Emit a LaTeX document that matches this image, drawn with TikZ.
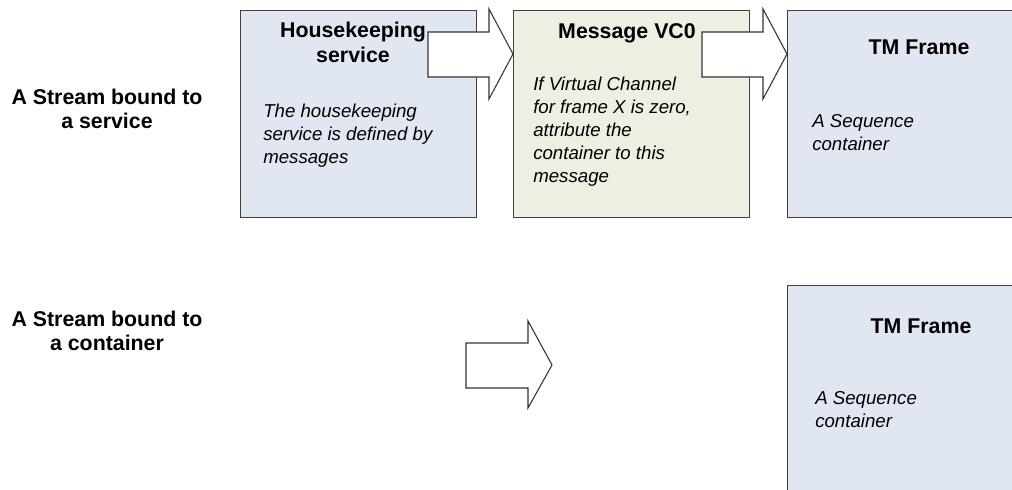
\documentclass[tikz,border=0pt]{standalone}
\usepackage{fontspec}
\setmainfont{Liberation Sans}
\begin{document}
\begin{tikzpicture}[x=0.75pt,y=-0.75pt,
  panel/.style={draw=black!75, line width=0.8pt, inner sep=0pt, anchor=north west,
                minimum width=177pt, minimum height=155.25pt},
  bluepanel/.style={panel, fill=panelblue},
  greenpanel/.style={panel, fill=panelgreen},
  blockarrow/.style={draw=black!80, line width=0.8pt, fill=white, line join=miter},
  heading/.style={font=\fontsize{16}{18.4}\selectfont\bfseries, align=center, anchor=base, inner sep=0pt},
  sidelabel/.style={font=\fontsize{16}{17.5}\selectfont\bfseries, align=center, anchor=base, inner sep=0pt},
  note/.style={font=\fontsize{14}{17.2}\selectfont\itshape, align=left, anchor=base west, inner sep=0pt}]
\definecolor{panelblue}{RGB}{225,231,242}
\definecolor{panelgreen}{RGB}{238,239,227}
\useasboundingbox (0,0) rectangle (1012,489);
\clip (0,0) rectangle (1012,489);

% panels
\node[bluepanel]  (hk)  at (240,10)  {};
\node[greenpanel] (vc)  at (513,10)  {};
\node[bluepanel]  (tm)  at (787,10)  {};
\node[bluepanel]  (tmb) at (787,285) {};

% side labels (positioned by the baseline of their last line)
\node[sidelabel] (lab1) at (107,128) {A Stream bound to\\a service};
\node[sidelabel] (lab2) at (107,350) {A Stream bound to\\a container};

% panel texts
\node[heading] (hkt) at (353,62) {Housekeeping\\service};
\node[note] (hkn) at (263,163) {The housekeeping\\service is defined by\\messages};

\node[heading] (vct) at (627,38) {Message VC0};
\node[note] (vcn) at (533,182) {If Virtual Channel\\for frame X is zero,\\attribute the\\container to this\\message};

\node[heading] (tmt) at (919,54) {TM Frame};
\node[note] (tmn) at (812,150) {A Sequence\\container};

\node[heading] (tmbt) at (921,333) {TM Frame};
\node[note] (tmbn) at (815,427) {A Sequence\\container};

% block arrows
\draw[blockarrow] (428,32) -- (489,32) -- (489,9) -- (vc.west |- 0,54) -- (489,99) -- (489,77) -- (428,77) -- cycle;
\draw[blockarrow] (702,32) -- (763,32) -- (763,9) -- (tm.west |- 0,54) -- (763,99) -- (763,77) -- (702,77) -- cycle;
\draw[blockarrow] (466,343) -- (528,343) -- (528,321) -- (552,365) -- (528,408) -- (528,388) -- (466,388) -- cycle;
\end{tikzpicture}
\end{document}
